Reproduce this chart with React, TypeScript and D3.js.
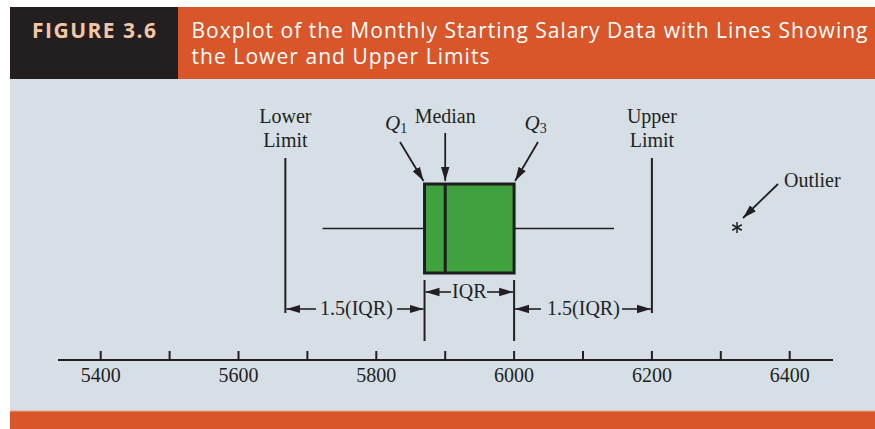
import React from "react";
import * as d3 from "d3";

// ---- data ----
const axisTicks = [5400, 5500, 5600, 5700, 5800, 5900, 6000, 6100, 6200, 6300, 6400];
const tickLabels = [5400, 5600, 5800, 6000, 6200, 6400];
const boxStats = { q1: 5870, median: 5900, q3: 6000 };
const whiskers = [5722, 6145];
const limits = [5668, 6200];
const outliers = [6325];
const titleLines = [
  "Boxplot of the Monthly Starting Salary Data with Lines Showing",
  "the Lower and Upper Limits",
];
const titleWidths = [676, 298];
const figureLabel = "FIGURE 3.6";

const W = 875;
const H = 429;

export default function App() {
  const x = d3.scaleLinear().domain([5400, 6400]).range([100.7, 789.7]);
  const axisY = 360;
  const boxTop = 184;
  const boxBot = 273;
  const midY = (boxTop + boxBot) / 2;
  const serif = "'Liberation Serif', 'Times New Roman', serif";
  const sans = "'Open Sans', 'Noto Sans', Lato, sans-serif";
  const ink = "#231f20";
  const fs = 20;

  const xQ1 = x(boxStats.q1);
  const xQ3 = x(boxStats.q3);
  const xMed = x(boxStats.median);
  const xLL = x(limits[0]);
  const xUL = x(limits[1]);
  const dimY1 = 292;
  const dimY2 = 309;

  const arrow = (x1: number, y1: number, x2: number, y2: number, w = 1.6) => (
    <line x1={x1} y1={y1} x2={x2} y2={y2} stroke={ink} strokeWidth={w} markerEnd="url(#ah)" />
  );

  const asterisk = (cx: number, cy: number) => {
    const r = 5.5;
    const angles = [90, 30, 150];
    return (
      <g key={cx}>
        {angles.map((a) => {
          const rad = (a * Math.PI) / 180;
          return (
            <line
              key={a}
              x1={cx - r * Math.cos(rad)}
              y1={cy - r * Math.sin(rad)}
              x2={cx + r * Math.cos(rad)}
              y2={cy + r * Math.sin(rad)}
              stroke={ink}
              strokeWidth={1.5}
            />
          );
        })}
      </g>
    );
  };

  return (
    <svg
      width={W}
      height={H}
      style={{ position: "absolute", left: 0, top: 0, display: "block" }}
    >
      <defs>
        <marker
          id="ah"
          markerUnits="userSpaceOnUse"
          viewBox="0 -5 14 10"
          refX={14}
          refY={0}
          markerWidth={14}
          markerHeight={10}
          orient="auto"
        >
          <path d="M0,-4.2 L14,0 L0,4.2 Z" fill={ink} />
        </marker>
      </defs>
      <rect x={0} y={0} width={W} height={H} fill="#ffffff" />
      {/* header */}
      <rect x={10} y={7} width={168} height={72} fill="#231f20" />
      <rect x={178} y={7} width={W - 178} height={72} fill="#d8562a" />
      <text x={32} y={37.5} fill="#f3c6a6" fontFamily={sans} fontWeight={700} fontSize={21}
        textLength={124} lengthAdjust="spacing">
        {figureLabel}
      </text>
      {titleLines.map((t, i) => (
        <text key={i} x={191.5} y={37.5 + i * 26} fill="#ffffff" fontFamily={sans} fontSize={21}
          textLength={titleWidths[i]} lengthAdjust="spacing">
          {t}
        </text>
      ))}
      {/* panel */}
      <rect x={10} y={79} width={W - 10} height={332} fill="#d6dfe6" />
      <rect x={10} y={411} width={W - 10} height={18} fill="#d8562a" />
      <line x1={10} x2={W} y1={411} y2={411} stroke="#e9a890" strokeWidth={1} />

      {/* axis */}
      <line x1={58} x2={833} y1={axisY} y2={axisY} stroke={ink} strokeWidth={2} />
      {axisTicks.map((t) => (
        <line key={t} x1={x(t)} x2={x(t)} y1={axisY - 9} y2={axisY} stroke={ink} strokeWidth={2} />
      ))}
      {tickLabels.map((t) => (
        <text key={t} x={x(t)} y={381.5} textAnchor="middle" fontFamily={serif} fontSize={fs} fill={ink}>
          {t}
        </text>
      ))}

      {/* whiskers */}
      <line x1={x(whiskers[0])} x2={xQ1} y1={midY} y2={midY} stroke={ink} strokeWidth={1.6} />
      <line x1={xQ3} x2={x(whiskers[1])} y1={midY} y2={midY} stroke={ink} strokeWidth={1.6} />
      {/* box */}
      <rect x={xQ1} y={boxTop} width={xQ3 - xQ1} height={boxBot - boxTop} fill="#40a13f" stroke="#1e1e1e" strokeWidth={3} />
      <line x1={xMed} x2={xMed} y1={boxTop} y2={boxBot} stroke="#1e1e1e" strokeWidth={3} />

      {/* limit lines */}
      <line x1={xLL} x2={xLL} y1={158} y2={313} stroke={ink} strokeWidth={2} />
      <line x1={xUL} x2={xUL} y1={158} y2={313} stroke={ink} strokeWidth={2} />
      {/* IQR bracket lines */}
      <line x1={xQ1} x2={xQ1} y1={280} y2={341} stroke={ink} strokeWidth={2} />
      <line x1={xQ3} x2={xQ3} y1={280} y2={341} stroke={ink} strokeWidth={2} />

      {/* IQR dimension */}
      {arrow(451, dimY1, xQ1 + 1, dimY1)}
      {arrow(487, dimY1, xQ3 - 1, dimY1)}
      <text x={(xQ1 + xQ3) / 2} y={dimY1 + 6} textAnchor="middle" fontFamily={serif} fontSize={fs} fill={ink}>
        IQR
      </text>
      {/* left 1.5 IQR */}
      {arrow(316, dimY2, xLL + 1, dimY2)}
      {arrow(397, dimY2, xQ1 - 1, dimY2)}
      <text x={(xLL + xQ1) / 2 + 1.5} y={dimY2 + 6} textAnchor="middle" fontFamily={serif} fontSize={fs} fill={ink}>
        1.5(IQR)
      </text>
      {/* right 1.5 IQR */}
      {arrow(541, dimY2, xQ3 + 1, dimY2)}
      {arrow(622, dimY2, xUL - 1, dimY2)}
      <text x={(xQ3 + xUL) / 2 + 0.5} y={dimY2 + 6} textAnchor="middle" fontFamily={serif} fontSize={fs} fill={ink}>
        1.5(IQR)
      </text>

      {/* labels */}
      <text x={xLL} y={123} textAnchor="middle" fontFamily={serif} fontSize={fs} fill={ink}>Lower</text>
      <text x={xLL} y={147} textAnchor="middle" fontFamily={serif} fontSize={fs} fill={ink}>Limit</text>
      <text x={xUL} y={123} textAnchor="middle" fontFamily={serif} fontSize={fs} fill={ink}>Upper</text>
      <text x={xUL} y={147} textAnchor="middle" fontFamily={serif} fontSize={fs} fill={ink}>Limit</text>
      <text x={xMed} y={123} textAnchor="middle" fontFamily={serif} fontSize={fs} fill={ink}>Median</text>
      <text x={385} y={130} fontFamily={serif} fontSize={21} fill={ink}>
        <tspan fontStyle="italic">Q</tspan>
        <tspan fontSize={14} dy={3}>1</tspan>
      </text>
      <text x={524.5} y={130} fontFamily={serif} fontSize={21} fill={ink}>
        <tspan fontStyle="italic">Q</tspan>
        <tspan fontSize={14} dy={3}>3</tspan>
      </text>
      <text x={784} y={187} fontFamily={serif} fontSize={fs} fill={ink}>Outlier</text>

      {/* pointer arrows */}
      {arrow(400, 142, xQ1 - 1, 181, 1.8)}
      {arrow(xMed, 133, xMed, 181, 1.8)}
      {arrow(538, 142, xQ3 + 1, 181, 1.8)}
      {arrow(778, 184, 743, 218, 1.8)}

      {/* outliers */}
      {outliers.map((o) => asterisk(x(o) - 1, midY - 1))}
    </svg>
  );
}
